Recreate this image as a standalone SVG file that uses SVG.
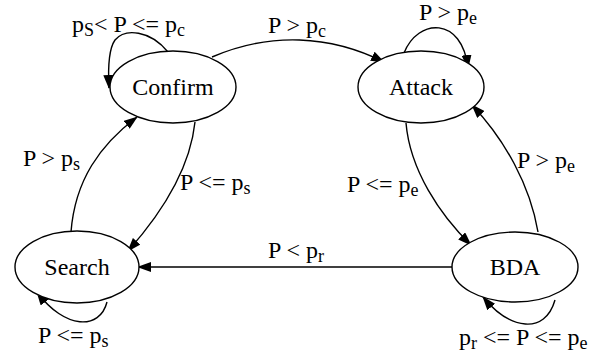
<svg xmlns="http://www.w3.org/2000/svg" width="607" height="358" viewBox="0 0 607 358">
<defs>
<marker id="ah" markerWidth="14" markerHeight="10" refX="13" refY="5" orient="auto" markerUnits="userSpaceOnUse">
<path d="M0,0 L14,5 L0,10 Z" fill="#000"/>
</marker>
<style>
.node ellipse{fill:#fff;stroke:#000;stroke-width:1.4}
.node text{font-family:'Liberation Serif',serif;font-size:24px;text-anchor:middle;fill:#000}
.edges path{fill:none;stroke:#000;stroke-width:1.4;marker-end:url(#ah)}
.lbl{font-family:'Liberation Serif',serif;font-size:24px;fill:#000}
.sub{font-size:18px}
</style>
</defs>
<rect width="607" height="358" fill="#fff"/>
<g class="edges" id="connectors">
<path d="M168,52 C150,30 125,28 115,40 C108,50 108,70 109,88"/>
<path d="M212,57 C270,32 330,35 384,62"/>
<path d="M404,53 C418,18 462,16 468,68"/>
<path d="M195,122 C190,170 160,215 128,251"/>
<path d="M71,232 C75,180 100,145 137,117"/>
<path d="M107,302 C100,330 65,330 37,292"/>
<path d="M452,267 L138,267"/>
<path d="M406,123 C410,170 440,215 471,245"/>
<path d="M538,232 C530,185 505,140 472,105"/>
<path d="M555,300 C545,335 510,330 483,297"/>
</g>
<g class="node" id="confirm"><ellipse cx="173" cy="87" rx="63" ry="36"/><text x="173" y="95">Confirm</text></g>
<g class="node" id="attack"><ellipse cx="421" cy="87" rx="63" ry="36"/><text x="421" y="95">Attack</text></g>
<g class="node" id="search"><ellipse cx="77" cy="267" rx="62" ry="36"/><text x="77" y="275">Search</text></g>
<g class="node" id="bda"><ellipse cx="515" cy="267" rx="63" ry="35"/><text x="515" y="275">BDA</text></g>
<g id="labels">
<text class="lbl" x="72" y="32">p<tspan class="sub" dy="4">S</tspan><tspan dy="-4">&lt; P &lt;= p</tspan><tspan class="sub" dy="4">c</tspan></text>
<text class="lbl" x="268" y="33">P &gt; p<tspan class="sub" dy="4">c</tspan></text>
<text class="lbl" x="419" y="20">P &gt; p<tspan class="sub" dy="4">e</tspan></text>
<text class="lbl" x="23" y="166">P &gt; p<tspan class="sub" dy="4">s</tspan></text>
<text class="lbl" x="180" y="190">P &lt;= p<tspan class="sub" dy="4">s</tspan></text>
<text class="lbl" x="268" y="258">P &lt; p<tspan class="sub" dy="4">r</tspan></text>
<text class="lbl" x="347" y="192">P &lt;= p<tspan class="sub" dy="4">e</tspan></text>
<text class="lbl" x="517" y="168">P &gt; p<tspan class="sub" dy="4">e</tspan></text>
<text class="lbl" x="38" y="343">P &lt;= p<tspan class="sub" dy="4">s</tspan></text>
<text class="lbl" x="459" y="345">p<tspan class="sub" dy="4">r</tspan><tspan dy="-4"> &lt;= P &lt;= p</tspan><tspan class="sub" dy="4">e</tspan></text>
</g>
</svg>
